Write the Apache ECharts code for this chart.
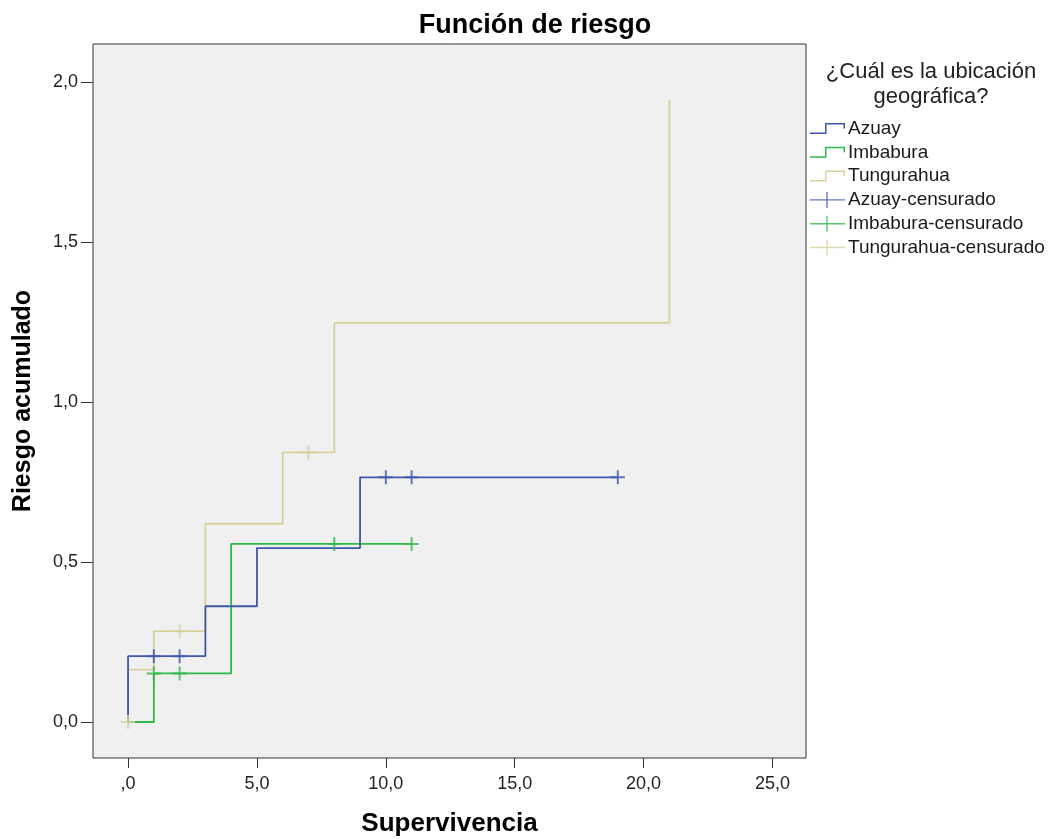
<!DOCTYPE html>
<html>
<head>
<meta charset="utf-8">
<title>Función de riesgo</title>
<script src="https://cdn.jsdelivr.net/npm/echarts@6/dist/echarts.min.js"></script>
<style>
  html, body { margin: 0; padding: 0; background: #fff; }
  #main { width: 1054px; height: 839px; }
</style>
</head>
<body>
<div id="main"></div>
<script>
// step curves (time, cumulative hazard)
var azuayT = [0, 0, 3, 5, 9, 19];
var azuayH = [0, 0.206, 0.362, 0.544, 0.765, 0.765];
var imbaT = [0, 1, 4, 11];
var imbaH = [0, 0.152, 0.557, 0.557];
var tungT = [0, 0, 1, 3, 6, 8, 21];
var tungH = [0, 0.164, 0.284, 0.62, 0.843, 1.248, 1.944];

// censored cases
var azuayCensT = [1, 2, 10, 11, 19];
var azuayCensH = [0.206, 0.206, 0.765, 0.765, 0.765];
var imbaCensT = [1, 2, 8, 11];
var imbaCensH = [0.152, 0.152, 0.557, 0.557];
var tungCensT = [0, 2, 7];
var tungCensH = [0, 0.284, 0.843];

var xTicks = [0, 5, 10, 15, 20, 25];
var yTicks = [0, 0.5, 1, 1.5, 2];

var names = ['Azuay', 'Imbabura', 'Tungurahua', 'Azuay-censurado', 'Imbabura-censurado', 'Tungurahua-censurado'];
var colors = ['#3e58ac', '#2eb848', '#d6d19b'];

function pairs(t, h) {
  return t.map(function (v, i) { return [v, h[i]]; });
}

// legend icons (tiny corner triangles only pin the box to 35x16)
var stepIcon = 'path://M0,0 L0.05,0 L0,0.05 Z M35,16 L34.95,16 L35,15.95 Z ' +
  'M0,12 L15,12 L15,2.5 L35,2.5 L35,8 L33.5,8 L33.5,4 L16.5,4 L16.5,13.5 L0,13.5 Z';
var plusIcon = 'path://M0,7.3 L16.3,7.3 L16.3,0 L17.7,0 L17.7,7.3 L35,7.3 L35,8.7 L17.7,8.7 L17.7,16 L16.3,16 L16.3,8.7 L0,8.7 Z';
var plusMark = 'path://M6,0 L8,0 L8,6 L14,6 L14,8 L8,8 L8,14 L6,14 L6,8 L0,8 L0,6 L6,6 Z';

function fmt(v, lead) {
  var s = v.toFixed(1).replace('.', ',');
  if (!lead && v === 0) s = ',0';
  return s;
}

var font = '"Liberation Sans", Arial, sans-serif';
var chart = echarts.init(document.getElementById('main'));

var lineSeries = [[azuayT, azuayH], [imbaT, imbaH], [tungT, tungH]].map(function (d, i) {
  return {
    name: names[i],
    type: 'line',
    step: 'end',
    data: pairs(d[0], d[1]),
    showSymbol: false,
    symbol: 'none',
    lineStyle: { color: colors[i], width: 1.8 },
    itemStyle: { color: colors[i] },
    z: 5 - i
  };
});
var censSeries = [[azuayCensT, azuayCensH], [imbaCensT, imbaCensH], [tungCensT, tungCensH]].map(function (d, i) {
  return {
    name: names[i + 3],
    type: 'scatter',
    data: pairs(d[0], d[1]),
    symbol: plusMark,
    symbolSize: 14,
    itemStyle: { color: colors[i] },
    z: 6
  };
});

chart.setOption({
  animation: false,
  backgroundColor: '#ffffff',
  title: [{
    text: 'Función de riesgo',
    left: 530, top: 7, textAlign: 'center',
    textStyle: { fontFamily: font, fontSize: 27, fontWeight: 'bold', color: '#000' }
  }, {
    text: '¿Cuál es la ubicación\ngeográfica?',
    left: 926, top: 54, textAlign: 'center',
    textStyle: { fontFamily: font, fontSize: 22, fontWeight: 'normal', color: '#222', lineHeight: 25, align: 'center' }
  }],
  legend: {
    orient: 'vertical',
    left: 810, top: 119, padding: 0,
    itemWidth: 35, itemHeight: 16, itemGap: 4.8,
    data: [
      { name: names[0], icon: stepIcon },
      { name: names[1], icon: stepIcon },
      { name: names[2], icon: stepIcon },
      { name: names[3], icon: plusIcon },
      { name: names[4], icon: plusIcon },
      { name: names[5], icon: plusIcon }
    ],
    textStyle: { fontFamily: font, fontSize: 19, color: '#1a1a1a', padding: [0, 0, 0, -2] },
    itemStyle: { borderWidth: 0 }
  },
  grid: {
    left: 93, right: 248, top: 44, bottom: 81,
    outerBoundsMode: 'none',
    show: true, backgroundColor: '#f0f0f0', borderColor: '#333', borderWidth: 1
  },
  xAxis: {
    type: 'value', min: -1.36, max: 26.3,
    name: 'Supervivencia', nameLocation: 'middle', nameGap: 53,
    nameTextStyle: { fontFamily: font, fontSize: 26, fontWeight: 'bold', color: '#000' },
    axisLine: { show: false, onZero: false },
    axisTick: { show: true, length: 10, customValues: xTicks, lineStyle: { color: '#333' } },
    axisLabel: { customValues: xTicks, margin: 17, fontFamily: font, fontSize: 18, color: '#222',
      formatter: function (v) { return fmt(v, false); } },
    splitLine: { show: false }
  },
  yAxis: {
    type: 'value', min: -0.1125, max: 2.12,
    name: 'Riesgo acumulado', nameLocation: 'middle', nameGap: 57,
    nameTextStyle: { fontFamily: font, fontSize: 25, fontWeight: 'bold', color: '#000' },
    axisLine: { show: false, onZero: false },
    axisTick: { show: true, length: 12, customValues: yTicks, lineStyle: { color: '#333' } },
    axisLabel: { customValues: yTicks, margin: 15, fontFamily: font, fontSize: 18, color: '#222',
      padding: [6, 0, 0, 0],
      formatter: function (v) { return fmt(v, true); } },
    splitLine: { show: false }
  },
  series: lineSeries.concat(censSeries)
});
</script>
</body>
</html>
